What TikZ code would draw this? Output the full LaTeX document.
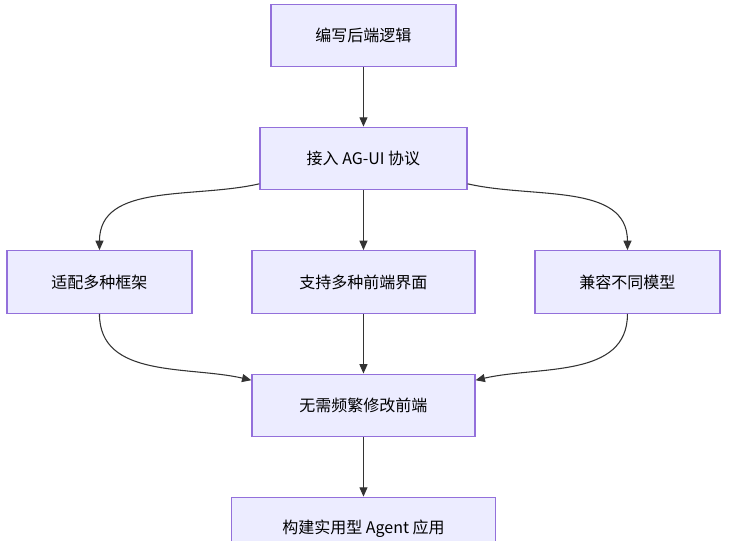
\documentclass[tikz,border=0pt]{standalone}
\usepackage{fontspec}
\setmainfont{Noto Sans CJK SC}
\usetikzlibrary{arrows.meta}
\usetikzlibrary{calc}
\definecolor{boxFill}{HTML}{ECECFF}
\definecolor{boxLine}{HTML}{9370DB}
\definecolor{edgeGray}{HTML}{333333}
\begin{document}
\begin{tikzpicture}[%%
  x=1pt,y=-1pt,%%
  boxStyle/.style={draw=boxLine,fill=boxFill,line width=0.9pt,minimum height=47pt,inner sep=0pt,font=\fontsize{12}{14}\selectfont},%%
  flowStyle/.style={draw=edgeGray,line width=0.8pt,-{Triangle[length=7pt,width=6pt]}}%%
]
%%
\useasboundingbox (0,0) rectangle (549.75,405);
%% The boxes.
\node[boxStyle,minimum width=138.75pt] (backend) at (272.6,26.6) {编写后端逻辑};
\node[boxStyle,minimum width=155.25pt] (agui) at (272.6,118.9) {接入 AG-UI 协议};
\node[boxStyle,minimum width=138.75pt] (frames) at (74.6,211.5) {适配多种框架};
\node[boxStyle,minimum width=167.25pt] (fronts) at (272.6,211.5) {支持多种前端界面};
\node[boxStyle,minimum width=138.75pt] (models) at (470.6,211.5) {兼容不同模型};
\node[boxStyle,minimum width=167.25pt] (nochange) at (272.6,304.1) {无需频繁修改前端};
\node[boxStyle,minimum width=198pt] (agentApp) at (272.6,396.4) {构建实用型 Agent 应用};
%% The connectors.
\draw[flowStyle] (backend) -- (agui);
\draw[flowStyle] (agui) -- (fronts);
\draw[flowStyle] ($(agui.south west)+(0,-5)$) to[out=-167,in=90] (frames.north);
\draw[flowStyle] ($(agui.south east)+(0,-5)$) to[out=-13,in=90] (models.north);
\draw[flowStyle] (fronts) -- (nochange);
\draw[flowStyle] (frames.south) to[out=-90,in=167] ($(nochange.north west)+(0,5)$);
\draw[flowStyle] (models.south) to[out=-90,in=13] ($(nochange.north east)+(0,5)$);
\draw[flowStyle] (nochange) -- (agentApp);
\end{tikzpicture}
\end{document}
